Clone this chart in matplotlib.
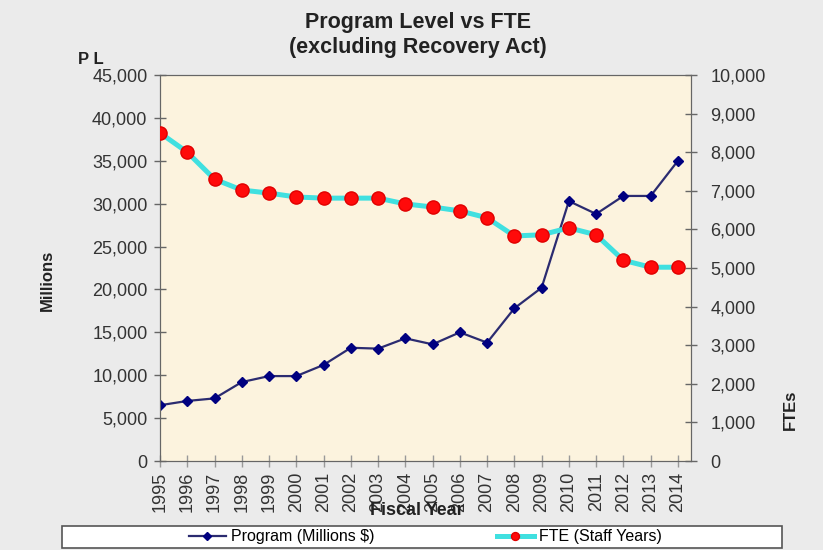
import matplotlib.pyplot as plt
from matplotlib.patches import Rectangle

plt.rcParams['font.family'] = ['Liberation Sans', 'DejaVu Sans']

years = ['1995', '1996', '1997', '1998', '1999', '2000', '2001', '2002', '2003', '2004',
         '2005', '2006', '2007', '2008', '2009', '2010', '2011', '2012', '2013', '2014']
program = [6500, 7000, 7300, 9200, 9900, 9900, 11200, 13200, 13100, 14300,
           13600, 15000, 13800, 17800, 20200, 30300, 28800, 30900, 30900, 35000]
fte = [8500, 8000, 7300, 7020, 6940, 6840, 6810, 6810, 6810, 6660,
       6580, 6480, 6300, 5830, 5860, 6040, 5860, 5200, 5020, 5020]

x = list(range(len(years)))

fig = plt.figure(figsize=(8.23, 5.5), dpi=100)
fig.patch.set_facecolor('#ebebeb')
# plot area: 160..691 px wide, 75..461 px tall
ax = fig.add_axes([160 / 823, 89 / 550, 531 / 823, 386 / 550])
ax.set_facecolor('#fcf3de')
ax2 = ax.twinx()

l1, = ax.plot(x, program, color='#2b2b70', lw=1.6, marker='D', ms=5,
              mfc='#000080', mec='#000080', label='Program (Millions $)', zorder=3)
l2, = ax2.plot(x, fte, color='#40e0e0', lw=3.6, marker='o', ms=9.5,
               mfc='#ff0a0a', mec='#e00000', label='FTE (Staff Years)', zorder=3)

ax.set_xlim(0, 19.48)
ax.set_ylim(0, 45000)
ax2.set_ylim(0, 10000)
ax.set_yticks(range(0, 45001, 5000))
ax.set_yticklabels([f'{v:,}' for v in range(0, 45001, 5000)])
ax2.set_yticks(range(0, 10001, 1000))
ax2.set_yticklabels([f'{v:,}' for v in range(0, 10001, 1000)])
ax.set_xticks(x)
ax.set_xticklabels(years, rotation=90)

for a in (ax, ax2):
    for s in a.spines.values():
        s.set_color('#666666')
ax.tick_params(axis='y', colors='#666666', labelcolor='#333333', labelsize=13,
               direction='inout', length=8, width=1, pad=5)
ax.tick_params(axis='x', colors='#999999', labelcolor='#333333', labelsize=13,
               direction='inout', length=8, width=1, pad=4)
ax2.tick_params(axis='y', colors='#666666', labelcolor='#333333', labelsize=13,
                direction='inout', length=8, width=1, pad=10)

# sits over the tick labels, as in the original
ax.set_xlabel('Fiscal Year', fontsize=13, fontweight='bold', color='#222222')
ax.xaxis.set_label_coords(0.484, -0.127)
ax.xaxis.label.set_va('center')

fig.text(0.058, 0.49, 'Millions', rotation=90, fontsize=12, fontweight='bold',
         ha='center', va='center', color='#222222')
fig.text(0.96, 0.255, 'FTEs', rotation=90, fontsize=12, fontweight='bold',
         ha='center', va='center', color='#222222')
fig.text(78 / 823, 1 - 60 / 550, 'P L', fontsize=12, fontweight='bold',
         ha='left', va='center', color='#222222')
fig.text(418 / 823, 1 - 35 / 550, 'Program Level vs FTE\n(excluding Recovery Act)',
         fontsize=15.5, fontweight='bold', ha='center', va='center', linespacing=1.2,
         color='#222222')

# legend box along the bottom
fig.add_artist(Rectangle((62 / 823, 1 - 548 / 550), 720 / 823, 22 / 550,
                         transform=fig.transFigure, facecolor='white',
                         edgecolor='#555555', lw=1.2, zorder=1))
leg_y = 1 - 537 / 550
leg1 = fig.legend(handles=[l1], loc='center left', bbox_to_anchor=(189 / 823, leg_y),
                  frameon=False, fontsize=11.5, handlelength=2.3, handletextpad=0.3,
                  borderpad=0, borderaxespad=0, markerscale=0.8)
leg2 = fig.legend(handles=[l2], loc='center left', bbox_to_anchor=(497 / 823, leg_y),
                  frameon=False, fontsize=11.5, handlelength=2.3, handletextpad=0.3,
                  borderpad=0, borderaxespad=0, markerscale=0.6)
leg1.set_zorder(2)
leg2.set_zorder(2)

fig.savefig('out.png', dpi=100, facecolor=fig.get_facecolor())
